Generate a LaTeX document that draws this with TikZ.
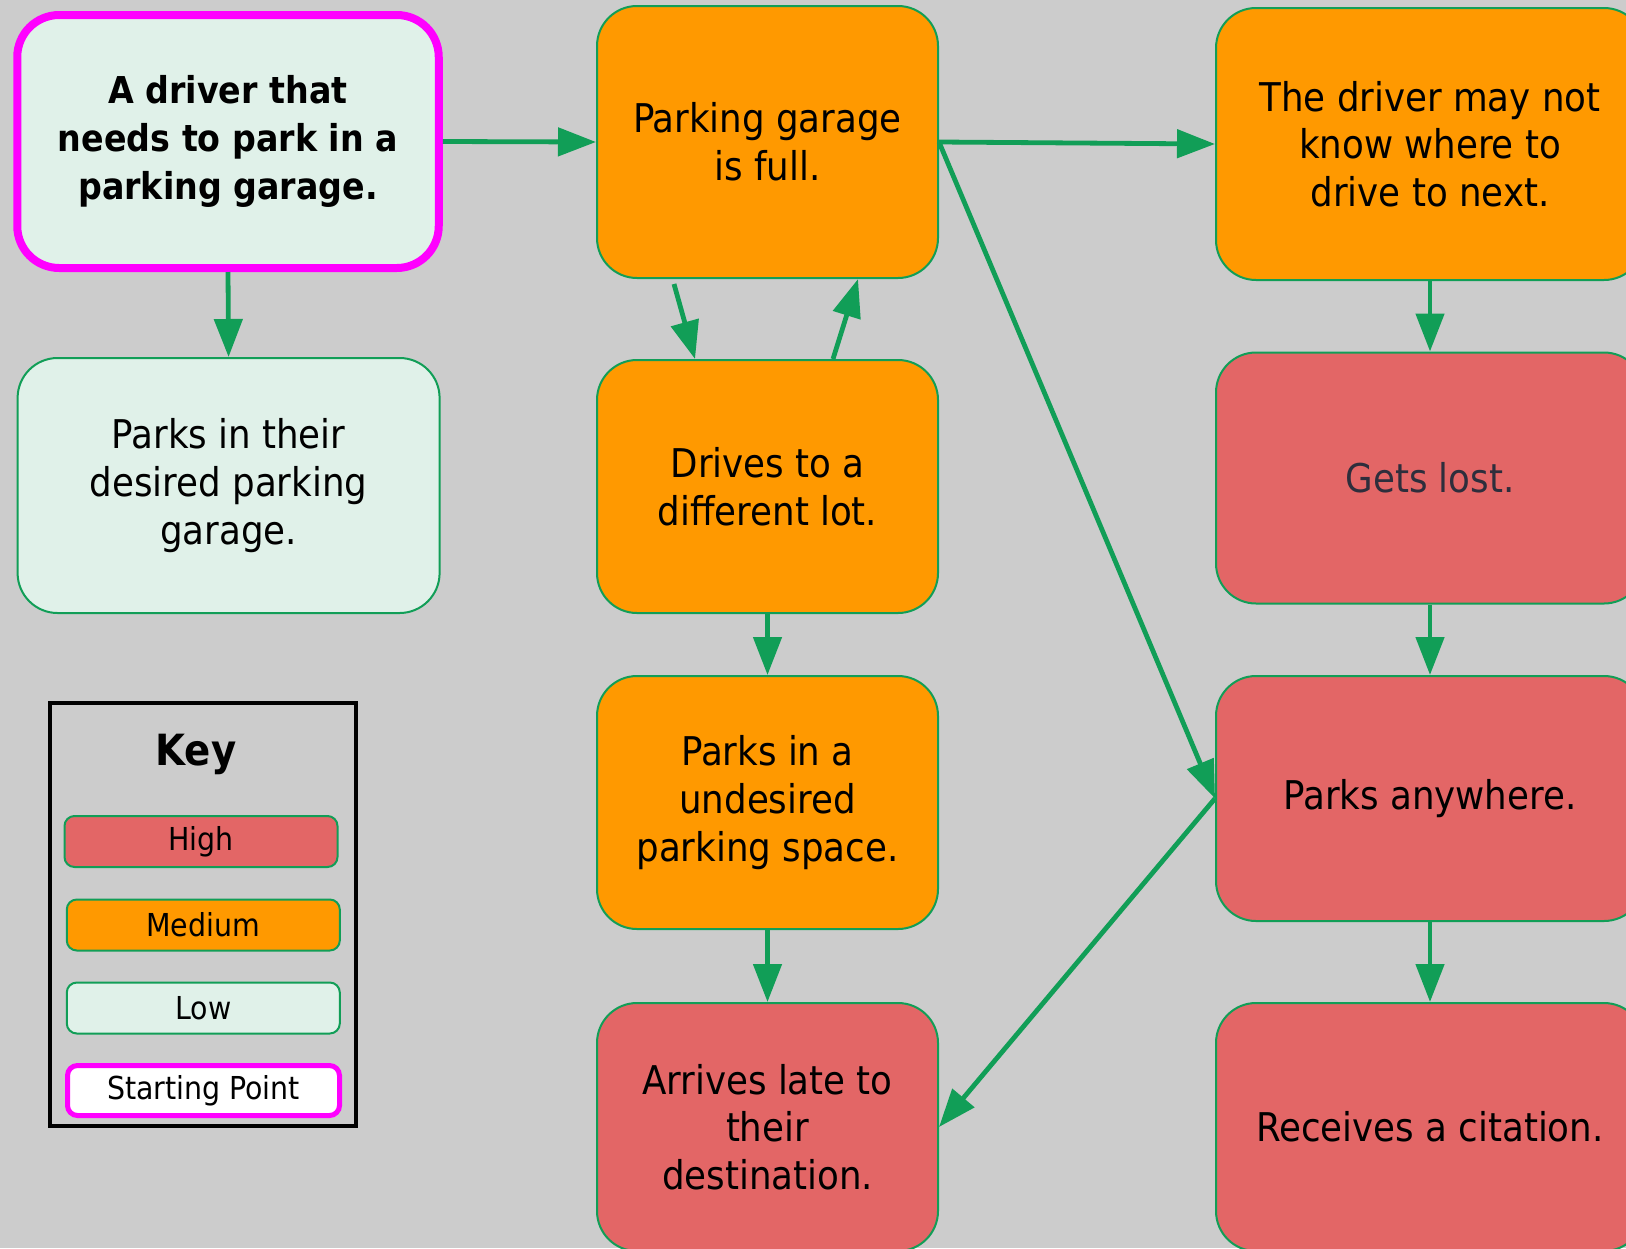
\documentclass[tikz,border=0pt]{standalone}
\usepackage{fontspec}
\setmainfont{DejaVu Sans Condensed}
\usetikzlibrary{arrows.meta,calc}
\definecolor{bg}{HTML}{CCCCCC}
\definecolor{medc}{HTML}{FF9900}
\definecolor{highc}{HTML}{E36666}
\definecolor{lowc}{HTML}{E0F1E9}
\definecolor{edgec}{HTML}{119E57}
\definecolor{magc}{HTML}{FF00FF}
\definecolor{lostc}{HTML}{2E2E3C}
\tikzset{
  box/.style={draw=edgec, line width=1pt, rounded corners=20pt, align=center,
    inner sep=0pt, font=\fontsize{19.8}{23.8}\selectfont},
  midbox/.style={box, minimum width=170.5pt},
  rightbox/.style={box, minimum width=214pt},
  keybox/.style={draw=edgec, line width=1pt, rounded corners=5pt, inner sep=0pt,
    minimum width=136.5pt, minimum height=25.5pt, font=\fontsize{15.8}{18}\selectfont},
  arr/.style={draw=edgec, line width=2.4pt, -{Triangle[length=19pt,width=14pt]}}
}
\begin{document}
\begin{tikzpicture}[x=0.5pt,y=-0.5pt]
\useasboundingbox (0,0) rectangle (1626,1248);
\clip (0,0) rectangle (1626,1248);
\fill[bg] (0,0) rectangle (1626,1248);

% left column
\node[box, draw=magc, line width=4pt, rounded corners=21pt, fill=lowc,
  minimum width=210.75pt, minimum height=126.5pt,
  font=\fontsize{18.5}{24}\selectfont\bfseries] (start) at (228,141.5)
  {A driver that\\needs to park in a\\parking garage.};
\node[box, fill=lowc, minimum width=211pt, minimum height=127.5pt] (desired) at (228.6,485.5)
  {Parks in their\\desired parking\\garage.};

% middle column
\node[midbox, fill=medc, minimum height=136pt] (full) at (767.5,142)
  {Parking garage\\is full.};
\node[midbox, fill=medc, minimum height=126.5pt] (drives) at (767.5,486.5)
  {Drives to a\\different lot.};
\node[midbox, fill=medc, minimum height=126.5pt] (undesired) at (767.5,802.5)
  {Parks in a\\undesired\\parking space.};
\node[midbox, fill=highc, minimum height=124pt] (late) at (767.5,1127)
  {Arrives late to\\their\\destination.};

% right column
\node[rightbox, fill=medc, minimum height=136pt] (nextd) at (1430,144)
  {The driver may not\\know where to\\drive to next.};
\node[rightbox, fill=highc, minimum height=125.5pt, text=lostc] (lost) at (1430,478)
  {Gets lost.};
\node[rightbox, fill=highc, minimum height=122.5pt] (anywhere) at (1430,798.5)
  {Parks anywhere.};
\node[rightbox, fill=highc, minimum height=124pt] (citation) at (1430,1127)
  {Receives a citation.};

% key
\node[draw=black, line width=2pt, minimum width=153pt, minimum height=211.5pt, inner sep=0pt]
  (keyframe) at (202.75,914.5) {};
\node[anchor=base, font=\fontsize{21.5}{24}\selectfont\bfseries, inner sep=0pt] (keytitle)
  at (196,765) {Key};
\node[keybox, fill=highc] (khigh) at (201,841.5) {High};
\node[keybox, fill=medc] (kmed) at (203.3,925) {Medium};
\node[keybox, fill=lowc] (klow) at (203.3,1008) {Low};
\node[keybox, draw=magc, line width=2.5pt, fill=white, minimum width=136pt, minimum height=25pt]
  (kstart) at (203.5,1090.5) {Starting Point};

% connectors
\draw[arr] (start.east) -- (full.west);
\draw[arr] (start.south) -- (desired.north);
\draw[arr] (full.east) -- (nextd.west);
\draw[arr] (full.east) -- (anywhere.west);
\draw[arr] ([xshift=-46.75pt,yshift=-2.5pt]full.south) -- ([xshift=-36.25pt]drives.north);
\draw[arr] ([xshift=32.75pt]drives.north) -- ([xshift=45.25pt]full.south);
\draw[arr] (drives.south) -- (undesired.north);
\draw[arr] (undesired.south) -- (late.north);
\draw[arr] (nextd.south) -- (lost.north);
\draw[arr] (lost.south) -- (anywhere.north);
\draw[arr] (anywhere.south) -- (citation.north);
\draw[arr] (anywhere.west) -- (late.east);
\end{tikzpicture}
\end{document}
